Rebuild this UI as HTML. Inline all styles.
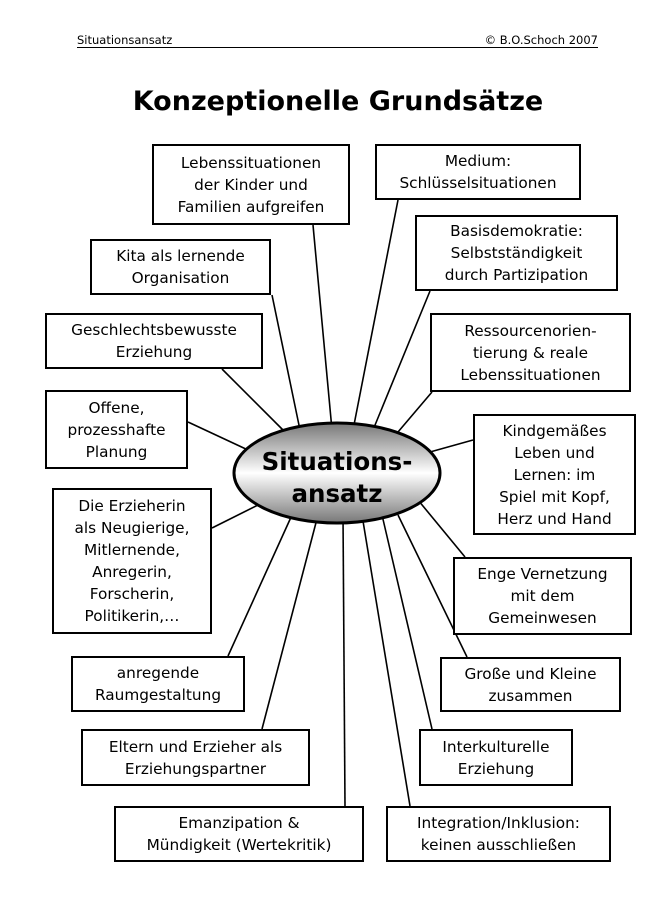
<!DOCTYPE html>
<html><head><meta charset="utf-8"><style>
body{margin:0;width:668px;height:914px;background:#fff;position:relative;overflow:hidden;font-family:"DejaVu Sans","Liberation Sans",sans-serif;color:#000}
.b{position:absolute;border:2px solid #000;box-sizing:border-box;background:#fff;display:flex;align-items:center;justify-content:center;text-align:center;font-size:15.3px;line-height:22px}
.h{position:absolute;font-size:11.5px;top:33px}
</style></head><body>
<div class="h" style="left:77px">Situationsansatz</div>
<div class="h" style="right:70px">© B.O.Schoch 2007</div>
<div style="position:absolute;left:77px;top:47px;width:521px;height:1px;background:#000"></div>
<div style="position:absolute;left:0;width:668px;top:86px;text-align:center;font-weight:bold;font-size:27px;padding-left:8px;box-sizing:border-box">Konzeptionelle Grundsätze</div>
<svg width="668" height="914" style="position:absolute;left:0;top:0">
<defs><linearGradient id="g" x1="0" y1="0" x2="0" y2="1"><stop offset="0" stop-color="#777"/><stop offset="0.5" stop-color="#fff"/><stop offset="1" stop-color="#777"/></linearGradient></defs>
<g stroke="#000" stroke-width="1.6">
<line x1="313" y1="225" x2="332" y2="430"/>
<line x1="398" y1="200" x2="353" y2="430"/>
<line x1="430" y1="291" x2="373" y2="430"/>
<line x1="272" y1="295" x2="300" y2="430"/>
<line x1="222" y1="369" x2="285" y2="432"/>
<line x1="432" y1="392" x2="398" y2="432"/>
<line x1="188" y1="422" x2="248" y2="450"/>
<line x1="473" y1="440" x2="430" y2="452"/>
<line x1="212" y1="528" x2="258" y2="505"/>
<line x1="465" y1="557" x2="418" y2="500"/>
<line x1="228" y1="656" x2="292" y2="515"/>
<line x1="467" y1="657" x2="398" y2="515"/>
<line x1="262" y1="729" x2="318" y2="515"/>
<line x1="432" y1="729" x2="382" y2="515"/>
<line x1="345" y1="806" x2="343" y2="515"/>
<line x1="410" y1="806" x2="362" y2="515"/>
</g>
<ellipse cx="337" cy="473" rx="103" ry="50" fill="url(#g)" stroke="#000" stroke-width="3"/>
<text x="337" y="470" text-anchor="middle" font-family="DejaVu Sans,sans-serif" font-weight="bold" font-size="24.5">Situations-</text>
<text x="337" y="502" text-anchor="middle" font-family="DejaVu Sans,sans-serif" font-weight="bold" font-size="24.5">ansatz</text>
</svg>
<div class="b" style="left:152px;top:144px;width:198px;height:81px">Lebenssituationen<br>der Kinder und<br>Familien aufgreifen</div>
<div class="b" style="left:375px;top:144px;width:206px;height:56px">Medium:<br>Schlüsselsituationen</div>
<div class="b" style="left:415px;top:215px;width:203px;height:76px">Basisdemokratie:<br>Selbstständigkeit<br>durch Partizipation</div>
<div class="b" style="left:90px;top:239px;width:181px;height:56px">Kita als lernende<br>Organisation</div>
<div class="b" style="left:45px;top:313px;width:218px;height:56px">Geschlechtsbewusste<br>Erziehung</div>
<div class="b" style="left:430px;top:313px;width:201px;height:79px">Ressourcenorien-<br>tierung &amp; reale<br>Lebenssituationen</div>
<div class="b" style="left:45px;top:390px;width:143px;height:79px">Offene,<br>prozesshafte<br>Planung</div>
<div class="b" style="left:473px;top:414px;width:163px;height:121px">Kindgemäßes<br>Leben und<br>Lernen: im<br>Spiel mit Kopf,<br>Herz und Hand</div>
<div class="b" style="left:52px;top:488px;width:160px;height:146px">Die Erzieherin<br>als Neugierige,<br>Mitlernende,<br>Anregerin,<br>Forscherin,<br>Politikerin,…</div>
<div class="b" style="left:453px;top:557px;width:179px;height:78px">Enge Vernetzung<br>mit dem<br>Gemeinwesen</div>
<div class="b" style="left:71px;top:656px;width:174px;height:56px">anregende<br>Raumgestaltung</div>
<div class="b" style="left:440px;top:657px;width:181px;height:55px">Große und Kleine<br>zusammen</div>
<div class="b" style="left:81px;top:729px;width:229px;height:57px">Eltern und Erzieher als<br>Erziehungspartner</div>
<div class="b" style="left:419px;top:729px;width:154px;height:57px">Interkulturelle<br>Erziehung</div>
<div class="b" style="left:114px;top:806px;width:250px;height:56px">Emanzipation &amp;<br>Mündigkeit (Wertekritik)</div>
<div class="b" style="left:386px;top:806px;width:225px;height:56px">Integration/Inklusion:<br>keinen ausschließen</div>
</body></html>
